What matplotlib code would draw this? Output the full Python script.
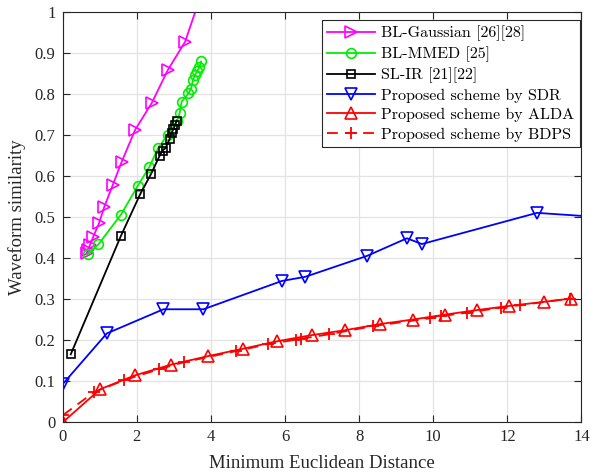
import numpy as np
import matplotlib
matplotlib.use("Agg")
import matplotlib.pyplot as plt

# BL-Gaussian [26][28]
gauss_x = [0.653, 0.680, 0.742, 0.831, 0.985, 1.128, 1.355, 1.598, 1.957, 2.408, 2.839, 3.306, 3.900]
gauss_y = [0.413, 0.420, 0.433, 0.453, 0.486, 0.526, 0.579, 0.636, 0.713, 0.779, 0.859, 0.928, 1.086]

# BL-MMED [25]
mmed_x = [0.675, 0.966, 1.579, 2.024, 2.343, 2.578, 2.834, 3.090, 3.158, 3.212, 3.395, 3.468,
          3.522, 3.576, 3.638, 3.692, 3.738]
mmed_y = [0.410, 0.434, 0.507, 0.576, 0.623, 0.669, 0.701, 0.735, 0.754, 0.782, 0.802, 0.814,
          0.836, 0.847, 0.858, 0.866, 0.880]

# SL-IR [21][22]
slir_x = [0.221, 1.571, 2.092, 2.389, 2.618, 2.699, 2.780, 2.888, 2.942, 2.991, 3.036, 3.082]
slir_y = [0.166, 0.454, 0.556, 0.606, 0.650, 0.663, 0.669, 0.691, 0.706, 0.715, 0.725, 0.736]

# Proposed scheme by SDR (last point lies past the x limit)
sdr_x = [0.0, 1.193, 2.721, 3.800, 5.916, 6.545, 8.211, 9.290, 9.695, 12.80, 14.6]
sdr_y = [0.093, 0.217, 0.276, 0.276, 0.345, 0.355, 0.406, 0.449, 0.435, 0.511, 0.500]

# Proposed scheme by ALDA
alda_x = [0.0, 1.012, 1.957, 2.928, 3.935, 4.880, 5.790, 6.726, 7.625, 8.570, 9.452, 10.324,
          11.180, 12.032, 12.977, 13.717]
alda_y = [0.0, 0.081, 0.115, 0.141, 0.162, 0.180, 0.198, 0.213, 0.225, 0.240, 0.251, 0.263,
          0.274, 0.284, 0.294, 0.302]

# Proposed scheme by BDPS
bdps_x = [0.013, 0.850, 1.660, 2.605, 3.279, 4.683, 5.547, 6.302, 6.429, 7.193, 8.381, 9.919,
          10.216, 10.918, 11.835, 12.348, 13.698]
bdps_y = [0.018, 0.074, 0.103, 0.130, 0.147, 0.174, 0.191, 0.202, 0.204, 0.215, 0.235, 0.254,
          0.259, 0.268, 0.280, 0.286, 0.302]

x_ticks = np.arange(0, 15, 2)
y_ticks = np.round(np.arange(0, 1.01, 0.1), 1)
y_tick_labels = ["0"] + [f"{v:g}" for v in y_ticks[1:]]

plt.rcParams["font.family"] = ["Liberation Serif", "DejaVu Serif"]
plt.rcParams["axes.unicode_minus"] = False

fig = plt.figure(figsize=(5.91, 4.72), dpi=100)
ax = fig.add_axes([0.1058, 0.1049, 0.8781, 0.8691])

lw = 1.3
ax.plot(gauss_x, gauss_y, color="#ff00ff", lw=lw, marker=">", ms=8.5, mfc="none", mew=1.2,
        label="BL-Gaussian [26][28]")
ax.plot(mmed_x, mmed_y, color="#00ee00", lw=lw, marker="o", ms=7, mfc="none", mew=1.2,
        label="BL-MMED [25]")
ax.plot(slir_x, slir_y, color="black", lw=lw, marker="s", ms=5.5, mfc="none", mew=1.2,
        label="SL-IR [21][22]")
ax.plot(sdr_x, sdr_y, color="#0000ff", lw=lw, marker="v", ms=8.5, mfc="none", mew=1.2,
        label="Proposed scheme by SDR")
ax.plot(alda_x, alda_y, color="#ff0000", lw=lw, marker="^", ms=8.5, mfc="none", mew=1.2,
        label="Proposed scheme by ALDA")
ax.plot(bdps_x, bdps_y, color="#ff0000", lw=lw, ls=(0, (6, 4)), marker="+", ms=9, mew=1.3,
        label="Proposed scheme by BDPS")

ax.set_xlim(0, 14)
ax.set_ylim(0, 1)
ax.set_xticks(x_ticks)
ax.set_yticks(y_ticks)
ax.set_yticklabels(y_tick_labels)

ax.grid(True, color="#e3e3e3", lw=0.9)
ax.set_axisbelow(True)
for s in ax.spines.values():
    s.set_color("#262626")
    s.set_linewidth(0.8)
ax.tick_params(direction="in", length=5, width=0.8, color="#262626", labelcolor="#262626",
               labelsize=12, top=True, right=True, pad=5)

ax.set_xlabel("Minimum Euclidean Distance", fontsize=13.5, color="#262626", labelpad=7)
ax.set_ylabel("Waveform similarity", fontsize=13.5, color="#262626", labelpad=6)

leg = ax.legend(loc="upper right", bbox_to_anchor=(0.997, 0.981), prop={"family": "cmr10", "size": 11.5},
                handlelength=3.0, handletextpad=0.37, labelspacing=0.33, borderpad=0.35,
                borderaxespad=0.0, fancybox=False, framealpha=1, edgecolor="#262626")
leg.get_frame().set_linewidth(0.8)

fig.savefig("out.png", dpi=100)
